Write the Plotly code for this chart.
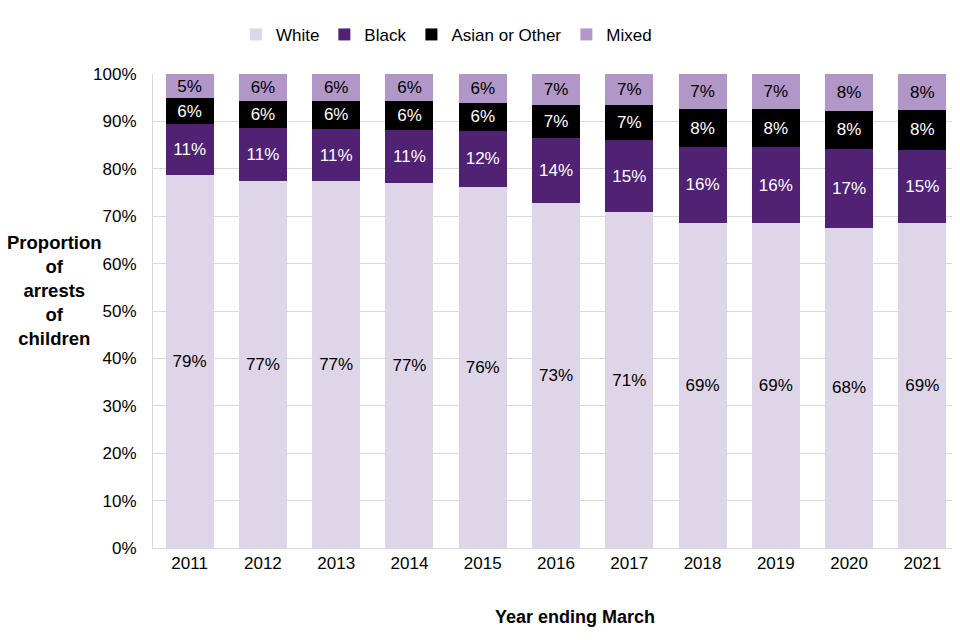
import plotly.graph_objects as go

years = ["2011", "2012", "2013", "2014", "2015", "2016", "2017", "2018", "2019", "2020", "2021"]
white = [78.6, 77.4, 77.4, 76.9, 76.2, 72.8, 70.8, 68.6, 68.6, 67.6, 68.6]
black = [10.8, 11.2, 11.0, 11.3, 11.8, 13.6, 15.3, 16.0, 15.9, 16.6, 15.4]
asian = [5.5, 5.7, 6.0, 6.1, 5.9, 7.1, 7.4, 8.0, 8.1, 8.0, 8.4]
mixed = [5.1, 5.7, 5.6, 5.7, 6.1, 6.5, 6.5, 7.4, 7.4, 7.8, 7.6]
y_ticks = [0, 10, 20, 30, 40, 50, 60, 70, 80, 90, 100]

series = [
    ("White", white, "#ded5e9", "#000000"),
    ("Black", black, "#512274", "#ffffff"),
    ("Asian or Other", asian, "#000000", "#ffffff"),
    ("Mixed", mixed, "#b196c8", "#000000"),
]

FONT = "Liberation Sans, Arial, sans-serif"
fig = go.Figure()
for name, vals, col, tcol in series:
    fig.add_trace(go.Bar(
        x=years, y=vals, name=name,
        marker=dict(color=col, line=dict(width=0)),
        text=vals, texttemplate="%{y:.0f}%", textposition="inside",
        insidetextanchor="middle", textangle=0, constraintext="none",
        textfont=dict(color=tcol, size=17, family=FONT),
        hoverinfo="skip",
    ))

fig.update_layout(
    barmode="stack", bargap=0.345,
    width=960, height=640,
    margin=dict(l=145, r=9, t=66, b=100, autoexpand=False),
    paper_bgcolor="white", plot_bgcolor="white",
    font=dict(family=FONT, size=17, color="#000000"),
    legend=dict(orientation="h", x=0.364, y=0.958, xanchor="center", yanchor="middle",
                yref="container", font=dict(size=17), traceorder="normal"),
)
fig.update_xaxes(showline=True, linecolor="#d9d9d9", ticks="", tickfont=dict(size=17),
                 automargin=False)
fig.update_yaxes(range=[0, 100], tickvals=y_ticks, ticktext=[f"{v}%" for v in y_ticks],
                 showgrid=True, gridcolor="#d9d9d9", gridwidth=1,
                 showline=True, linecolor="#d9d9d9", zeroline=False, ticks="",
                 tickfont=dict(size=17), ticklabelstandoff=12, automargin=False)
fig.add_annotation(text="<b>Proportion<br>of<br>arrests<br>of<br>children</b>",
                   xref="paper", yref="paper", x=-0.1216, y=0.544, xanchor="center", yanchor="middle",
                   showarrow=False, font=dict(size=18.5), align="center")
fig.add_annotation(text="<b>Year ending March</b>",
                   xref="paper", yref="paper", x=0.5236, y=-0.1456, xanchor="center", yanchor="middle",
                   showarrow=False, font=dict(size=18))
fig.write_html("out.html")
